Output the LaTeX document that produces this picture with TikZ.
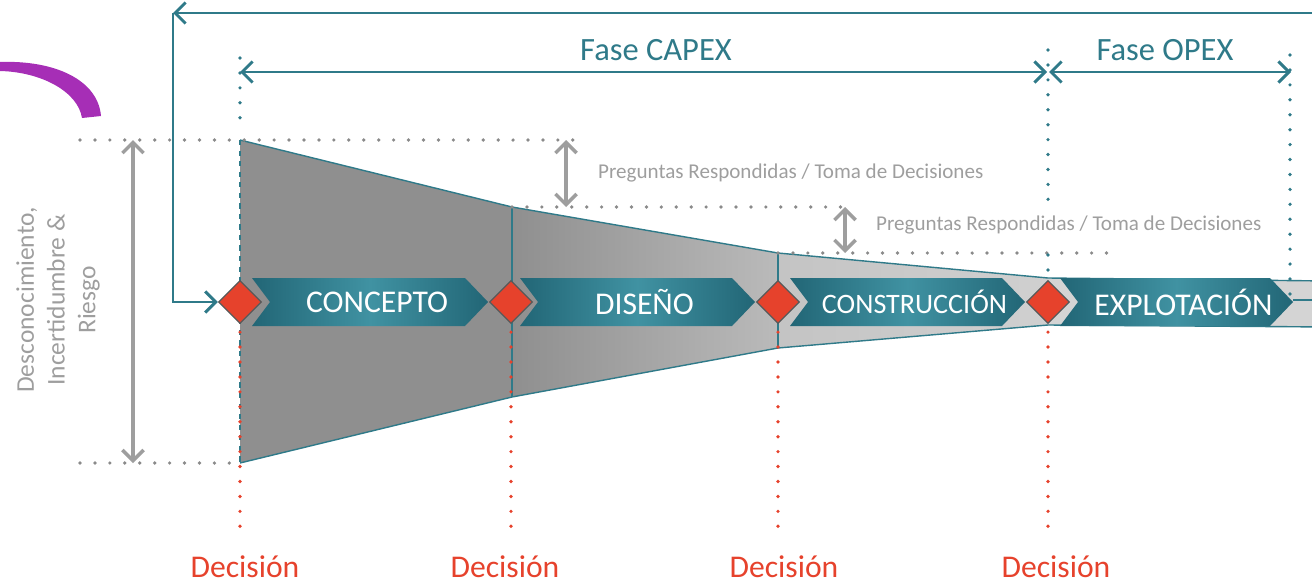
\documentclass[tikz,border=0pt]{standalone}
\usepackage{fontspec}
\setmainfont{Carlito}
\usetikzlibrary{shapes.geometric,arrows.meta}

\definecolor{tealband}{RGB}{47,122,137}
\definecolor{tealdark}{RGB}{34,102,118}
\definecolor{teallight}{RGB}{64,146,162}
\definecolor{decred}{RGB}{230,66,44}
\definecolor{txtgray}{RGB}{158,158,158}
\definecolor{dotgray}{RGB}{138,138,138}
\definecolor{arcpurple}{RGB}{166,46,182}
\definecolor{funnelA}{RGB}{143,143,143}
\definecolor{funnelB}{RGB}{186,186,186}
\definecolor{funnelC}{RGB}{196,196,196}
\definecolor{funnelD}{RGB}{212,212,212}

\tikzset{
  dotline/.style={line width=2.1pt, line cap=round, dash pattern=on 0pt off 8.5pt},
  graydots/.style={dotline, draw=dotgray},
  reddots/.style={dotline, draw=decred},
  tealdots/.style={dotline, draw=tealband},
  barb/.tip={Straight Barb[length=6pt,width=12pt]},
  grayarrow/.style={draw=txtgray, line width=2pt, barb-barb},
  phasearrow/.style={draw=tealband, line width=1.7pt, barb-barb},
  loopline/.style={draw=tealband, line width=1.7pt},
  edgeline/.style={draw=tealband, line width=0.8pt},
  gate/.style={diamond, fill=decred, draw=black!65, line width=0.7pt,
    minimum width=24.5pt, minimum height=24.5pt, inner sep=0pt},
  phasetext/.style={text=white},
  phaselabel/.style={text=tealband, font=\fontsize{18.5}{22}\selectfont},
  decisiontext/.style={text=decred, font=\fontsize{18}{22}\selectfont, inner sep=1pt},
  answertext/.style={text=txtgray, font=\fontsize{12}{14}\selectfont, anchor=west},
}

\begin{document}
\begin{tikzpicture}[x=0.02cm, y=-0.02cm]
        \useasboundingbox (0,0) rectangle (1312,585);
        \clip (0,0) rectangle (1312,585);

        % the purple stroke
        \fill[arcpurple] (0,62) .. controls (55,60) and (98,80) .. (101,116)
            -- (82,118) .. controls (78,92) and (42,72) .. (0,71) -- cycle;

        % the funnel corners
        \coordinate (t0) at (240,140);
        \coordinate (t1) at (512,207);
        \coordinate (t2) at (778,253);
        \coordinate (t3) at (1048,278);
        \coordinate (t4) at (1330,281);
        \coordinate (b0) at (240,463);
        \coordinate (b1) at (512,397);
        \coordinate (b2) at (778,348);
        \coordinate (b3) at (1048,325);
        \coordinate (b4) at (1330,327);

        % draw the funnel
        \fill[funnelA] (t0) -- (t1) -- (b1) -- (b0) -- cycle;
        \shade[left color=funnelA, right color=funnelB] (t1) -- (t2) -- (b2) -- (b1) -- cycle;
        \shade[left color=funnelC, right color=funnelC!80!white] (t2) -- (t3) -- (b3) -- (b2) -- cycle;
        \fill[funnelD] (t3) -- (t4) -- (b4) -- (b3) -- cycle;
        \draw[edgeline] (t0) -- (t1) -- (t2) -- (t3) -- (t4);
        \draw[edgeline] (b0) -- (b1) -- (b2) -- (b3) -- (b4);
        \draw[edgeline] (t1) -- (b1) (t2) -- (b2);
        \draw[edgeline, dashed] (t0) -- (b0);

        % the dotted guides
        \draw[graydots] (80,140) -- (575,140);
        \draw[graydots] (80,463) -- (b0);
        \draw[graydots] (t1) -- (848,207);
        \draw[graydots] (t2) -- (1118,253);
        \draw[tealdots] (240,58) -- (240,132);
        \draw[tealdots] (1048,50) -- (1048,200);
        \draw[tealdots] (1048,255) -- (1048,280);
        \draw[tealdots] (1290,55) -- (1290,298);

        % the grey arrows and their texts
        \draw[grayarrow] (133,140) -- (133,463);
        \draw[grayarrow] (566,140) -- (566,207);
        \draw[grayarrow] (845,207) -- (845,253);
        \node[rotate=90, align=center, text=txtgray, font=\fontsize{14.5}{17.5}\selectfont] (risk) at (58,300)
            {Desconocimiento,\\Incertidumbre \&\\Riesgo};
        \node[answertext] (answer1) at (592,173) {Preguntas Respondidas / Toma de Decisiones};
        \node[answertext] (answer2) at (870,225) {Preguntas Respondidas / Toma de Decisiones};

        % the phases
        \foreach \xa/\xb/\label/\fs [count=\i] in {252/488/CONCEPTO/18, 520/755/DISEÑO/18,
                790/1025/CONSTRUCCIÓN/16, 1060/1293/EXPLOTACIÓN/18} {
            \shade[left color=tealdark, right color=tealdark, middle color=teallight]
                (\xa,278) -- (\xb-23,278) -- (\xb,302) -- (\xb-23,326) -- (\xa,326) -- (\xa+18,302) -- cycle;
            \node[phasetext, font=\fontsize{\fs}{20}\selectfont] (ph\i) at ({(\xa+\xb)/2+7},302) {\label};
        }

        % the decision points
        \foreach \x/\xt [count=\i] in {240/245, 511/505, 778/784, 1048/1056} {
            \node[gate] (gate\i) at (\x,302) {};
            \draw[reddots] (gate\i.south) ++(0,8) -- (\x,540);
            \node[decisiontext] (dec\i) at (\xt,567) {Decisión};
        }

        % the CAPEX and OPEX arrows
        \coordinate (capexL) at (240,72);
        \coordinate (capexR) at (1047,72);
        \coordinate (opexL) at (1049,72);
        \coordinate (opexR) at (1291,72);
        \draw[phasearrow] (capexL) -- (capexR);
        \draw[phasearrow] (opexL) -- (opexR);
        \node[phaselabel] (capex) at (656,50) {Fase CAPEX};
        \node[phaselabel] (opex) at (1165,50) {Fase OPEX};

        % the loop back to the start
        \coordinate (exptip) at (1293,300);
        \coordinate (loopcorner) at (173,13);
        \draw[loopline, -barb] (exptip) -- (1340,300) |- (loopcorner);
        \draw[loopline, -barb] (loopcorner) |- (gate1.west);

    \end{tikzpicture}
\end{document}
